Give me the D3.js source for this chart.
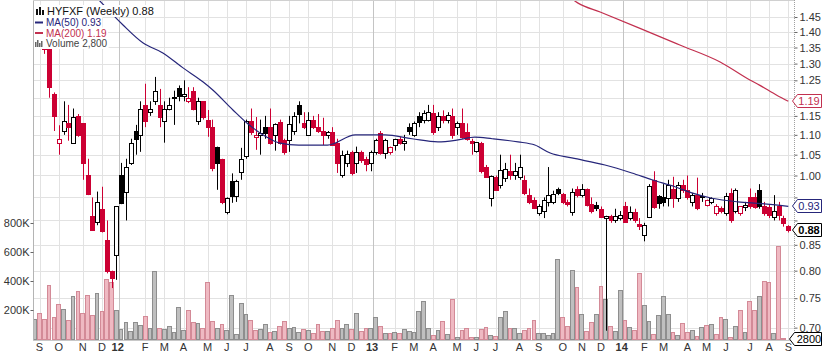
<!DOCTYPE html>
<html>
<head>
<meta charset="utf-8">
<script src="https://cdn.jsdelivr.net/npm/d3@7"></script>
<style>
html, body { margin: 0; padding: 0; background: #fff; }
svg { display: block; }
</style>
</head>
<body>
<svg id="chart" width="832" height="353"></svg>
<script>
// Weekly bars, dated by the Monday of the week; first bar is 29 Aug 2011
var firstWeek = new Date(2011, 7, 29);
var prevClose = 1.40;

// [open, high, low, close] per week
var ohlc = [
	[1.45,1.48,1.40,1.42],[1.42,1.44,1.36,1.38],[1.38,1.40,1.33,1.345],[1.35,1.36,1.20,1.23],
	[1.21,1.215,1.11,1.15],[1.08,1.125,1.05,1.09],[1.11,1.19,1.10,1.137],[1.13,1.18,1.085,1.12],
	[1.08,1.17,1.08,1.147],[1.15,1.155,1.095,1.10],[1.13,1.13,0.99,1.03],[1.00,1.04,0.955,0.958],
	[0.91,0.95,0.878,0.88],[0.897,0.963,0.89,0.94],[0.925,0.974,0.875,0.878],[0.86,0.90,0.795,0.80],
	[0.80,0.80,0.768,0.787],[0.83,0.93,0.783,0.93],[1.00,1.03,0.935,0.938],[0.962,1.04,0.90,1.02],
	[1.03,1.09,1.025,1.08],[1.11,1.126,1.05,1.09],[1.10,1.19,1.057,1.17],[1.18,1.24,1.12,1.137],
	[1.16,1.19,1.15,1.17],[1.19,1.26,1.18,1.22],[1.18,1.225,1.12,1.147],[1.137,1.19,1.08,1.17],
	[1.17,1.20,1.165,1.18],[1.198,1.22,1.126,1.202],[1.228,1.235,1.19,1.205],[1.205,1.25,1.19,1.21],
	[1.19,1.23,1.185,1.20],[1.22,1.23,1.165,1.17],[1.137,1.20,1.126,1.19],[1.19,1.19,1.14,1.147],
	[1.139,1.166,1.095,1.12],[1.12,1.14,1.01,1.018],[1.07,1.07,0.967,1.03],[1.04,1.04,0.935,0.94],
	[0.918,0.95,0.913,0.948],[0.987,1.005,0.938,0.952],[0.952,0.99,0.94,0.987],[1.008,1.067,0.99,1.04],
	[1.047,1.14,1.04,1.137],[1.137,1.17,1.10,1.108],[1.095,1.147,1.062,1.10],[1.10,1.14,1.05,1.105],
	[1.12,1.15,1.09,1.106],[1.12,1.17,1.075,1.08],[1.10,1.13,1.06,1.128],[1.133,1.14,1.075,1.08],
	[1.087,1.09,1.05,1.057],[1.087,1.15,1.057,1.128],[1.11,1.16,1.10,1.15],[1.18,1.19,1.13,1.155],
	[1.13,1.16,1.115,1.12],[1.10,1.16,1.10,1.139],[1.139,1.15,1.115,1.12],[1.12,1.155,1.105,1.11],
	[1.11,1.145,1.074,1.10],[1.10,1.11,1.09,1.108],[1.108,1.12,1.074,1.074],[1.08,1.09,1.006,1.03],
	[1.00,1.06,0.995,1.05],[1.03,1.06,1.02,1.052],[1.057,1.06,1.00,1.007],[1.03,1.07,1.006,1.057],
	[1.057,1.06,1.03,1.037],[1.04,1.045,1.01,1.027],[1.03,1.06,1.01,1.057],[1.057,1.09,1.05,1.087],
	[1.105,1.11,1.05,1.054],[1.054,1.09,1.04,1.087],[1.057,1.07,1.05,1.07],[1.074,1.09,1.06,1.09],
	[1.09,1.095,1.075,1.08],[1.08,1.10,1.06,1.085],[1.12,1.13,1.10,1.11],[1.10,1.135,1.095,1.13],
	[1.15,1.16,1.12,1.133],[1.14,1.165,1.13,1.157],[1.14,1.18,1.135,1.16],[1.157,1.18,1.10,1.108],
	[1.12,1.16,1.11,1.15],[1.15,1.165,1.13,1.14],[1.138,1.16,1.13,1.152],[1.15,1.17,1.09,1.10],
	[1.12,1.135,1.10,1.13],[1.13,1.17,1.09,1.095],[1.108,1.13,1.085,1.09],[1.085,1.09,1.05,1.08],
	[1.06,1.08,1.055,1.082],[1.08,1.082,1.005,1.01],[1.02,1.025,0.995,0.997],[0.948,1.00,0.93,0.999],
	[0.997,1.00,0.965,0.967],[0.978,1.05,0.97,1.013],[0.995,1.03,0.985,1.015],[1.01,1.05,0.99,1.00],
	[1.00,1.03,0.99,1.01],[0.997,1.05,0.99,1.02],[0.99,1.00,0.955,0.96],[0.955,0.97,0.935,0.94],
	[0.945,0.95,0.925,0.927],[0.915,0.935,0.91,0.93],[0.92,0.95,0.905,0.945],[0.94,1.02,0.93,0.955],
	[0.94,0.965,0.935,0.958],[0.968,0.972,0.955,0.96],[0.958,0.96,0.935,0.94],[0.94,0.945,0.93,0.935],
	[0.918,0.97,0.91,0.963],[0.968,0.975,0.95,0.955],[0.955,0.98,0.95,0.968],[0.968,0.97,0.93,0.933],
	[0.935,0.95,0.915,0.92],[0.933,0.94,0.92,0.926],[0.924,0.93,0.905,0.908],[0.905,0.91,0.695,0.91],
	[0.91,0.912,0.895,0.90],[0.90,0.925,0.895,0.91],[0.905,0.92,0.90,0.912],[0.93,0.94,0.895,0.897],
	[0.905,0.93,0.90,0.918],[0.918,0.925,0.895,0.90],[0.892,0.905,0.88,0.888],[0.87,0.895,0.857,0.89],
	[0.908,0.98,0.905,0.975],[0.99,1.01,0.925,0.928],[0.952,0.955,0.925,0.937],[0.951,0.98,0.93,0.94],
	[0.948,0.99,0.93,0.978],[0.969,0.997,0.927,0.948],[0.948,0.985,0.94,0.978],[0.978,0.99,0.96,0.967],
	[0.967,1.00,0.945,0.95],[0.94,0.96,0.93,0.955],[0.955,0.995,0.922,0.927],[0.953,0.96,0.94,0.95],
	[0.933,0.945,0.93,0.944],[0.94,0.95,0.935,0.948],[0.915,0.935,0.91,0.93],[0.927,0.93,0.915,0.92],
	[0.915,0.96,0.91,0.952],[0.96,0.97,0.895,0.90],[0.92,0.97,0.915,0.967],[0.915,0.93,0.91,0.93],
	[0.928,0.94,0.92,0.933],[0.95,0.97,0.925,0.932],[0.95,0.96,0.925,0.928],[0.966,0.98,0.925,0.93],
	[0.93,0.94,0.91,0.915],[0.928,0.935,0.905,0.912],[0.907,0.955,0.90,0.92],[0.93,0.94,0.90,0.912],
	[0.905,0.91,0.887,0.895],[0.888,0.89,0.875,0.88]
];

// weekly volume, thousands of shares
var volume = [
	136,177,136,372,152,241,207,131,296,331,179,303,165,317,193,414,393,200,69,117,
	55,117,97,161,76,469,76,69,90,48,221,62,200,117,110,76,393,124,76,103,
	62,303,34,248,172,131,62,69,103,48,55,90,124,76,83,48,69,62,41,103,
	55,55,76,131,76,103,69,179,55,76,76,152,90,41,41,48,41,69,55,48,
	193,262,74,28,62,124,34,276,14,62,76,14,14,69,83,28,21,152,193,76,
	76,41,62,76,131,41,41,28,41,552,152,90,476,359,172,55,117,172,366,276,
	90,55,338,131,83,62,455,234,124,34,165,296,172,48,28,110,48,62,21,83,
	97,103,34,152,141,14,90,200,48,262,200,296,400,393,41,641,7,2.8
];

// moving averages: [week index, value]
var ma50 = [
	[11,1.55],[14.4,1.491],[16.3,1.457],[18.4,1.423],[22.6,1.364],[26.7,1.333],[30.9,1.287],
	[35.1,1.245],[37.1,1.222],[41.3,1.166],[44.2,1.131],[48.4,1.094],[51.1,1.079],[55,1.074],
	[61,1.074],[66.8,1.10],[73,1.10],[78.6,1.09],[84,1.082],[88.2,1.087],[91.7,1.094],[95.3,1.09],
	[100.7,1.082],[104.2,1.074],[107.4,1.054],[111.9,1.042],[118.8,1.025],[124.4,1.006],
	[128.6,0.99],[133.4,0.974],[136.9,0.96],[141.1,0.948],[146.5,0.94],[151.5,0.936],[157,0.93]
];
var ma200 = [
	[110,1.54],[113.2,1.498],[117.8,1.467],[126.1,1.412],[134.4,1.358],[142.8,1.305],
	[149,1.251],[151,1.236],[154.6,1.207],[157,1.19]
];

var priceTicks = [0.70,0.75,0.80,0.85,0.90,0.95,1.00,1.05,1.10,1.15,1.20,1.25,1.30,1.35,1.40,1.45];
var volumeTicks = [200,400,600,800];
var monthLetters = ['J','F','M','A','M','J','J','A','S','O','N','D'];

var plot = {left: 33, right: 794, top: 0, bottom: 340};
var red = '#cc0033';
var navy = '#26267a';
var maRed = '#c2304f';
var axisFont = '"Liberation Sans", Arial, sans-serif';

var svg = d3.select('#chart');

var xScale = d3.scaleBand()
		.domain(d3.range(ohlc.length))
		.range([32.3, 32.3 + ohlc.length * 4.8]);
var step = xScale.bandwidth();

var yPrice = d3.scaleLog()
		.domain([0.680, 1.509])
		.range([plot.bottom, plot.top]);

var yVol = d3.scaleLinear()
		.domain([0, 1000])
		.range([339, 194]);

function center(i) {
	return xScale.range()[0] + step * (i + 0.5);
}

function isUp(i) {
	var prev = i ? ohlc[i - 1][3] : prevClose;
	return ohlc[i][3] >= prev;
}

var weeks = d3.range(ohlc.length).map(function(i) {
	return d3.timeDay.offset(firstWeek, 7 * i);
});
var monthStarts = d3.range(1, weeks.length).filter(function(i) {
	return weeks[i].getMonth() !== weeks[i - 1].getMonth();
});

var lastClose = ohlc[ohlc.length - 1][3];
var lastMa50 = ma50[ma50.length - 1][1];
var lastMa200 = ma200[ma200.length - 1][1];
var lastVol = volume[volume.length - 1] * 1000;

// grid
var grid = svg.append('g');
grid.selectAll('line.h').data(priceTicks).enter().append('line')
		.attr('x1', plot.left).attr('x2', plot.right)
		.attr('y1', d => Math.round(yPrice(d)) + 0.5)
		.attr('y2', d => Math.round(yPrice(d)) + 0.5)
		.attr('stroke', '#e2e2e2');

grid.selectAll('line.v').data(monthStarts).enter().append('line')
		.attr('x1', d => Math.round(weeks[d].getMonth() === 0 ? xScale(d) : center(d)) + 0.5)
		.attr('x2', d => Math.round(weeks[d].getMonth() === 0 ? xScale(d) : center(d)) + 0.5)
		.attr('y1', plot.top).attr('y2', plot.bottom)
		.attr('stroke', d => weeks[d].getMonth() === 0 ? '#c4c4c4' : '#e2e2e2');

// frame
svg.append('line').attr('x1', plot.left + 0.5).attr('x2', plot.left + 0.5)
		.attr('y1', 0).attr('y2', plot.bottom).attr('stroke', '#b4b4b4');
svg.append('line').attr('x1', plot.left).attr('x2', plot.right)
		.attr('y1', plot.bottom + 0.5).attr('y2', plot.bottom + 0.5).attr('stroke', '#c8c8c8');
svg.append('line').attr('x1', plot.left).attr('x2', plot.right)
		.attr('y1', 0.5).attr('y2', 0.5).attr('stroke', '#d0d0d0');
svg.append('line').attr('x1', plot.right + 0.5).attr('x2', plot.right + 0.5)
		.attr('y1', 0).attr('y2', plot.bottom)
		.attr('stroke', '#a0a0a0').attr('stroke-dasharray', '1,1');

svg.append('clipPath').attr('id', 'clip').append('rect')
		.attr('x', plot.left + 1).attr('y', 1)
		.attr('width', plot.right - plot.left - 1).attr('height', plot.bottom - 1);

var body = svg.append('g').attr('clip-path', 'url(#clip)');

// volume
body.append('g').selectAll('rect').data(volume).enter().append('rect')
		.attr('x', (d, i) => Math.round(xScale(i)) + 0.5)
		.attr('width', (d, i) => Math.max(1, Math.round(xScale(i) + step) - Math.round(xScale(i)) - 1))
		.attr('y', d => Math.round(yVol(d)) + 0.5)
		.attr('height', d => Math.max(0, 339 - Math.round(yVol(d))))
		.attr('fill', (d, i) => isUp(i) ? '#bfbfbf' : '#efb9c2')
		.attr('stroke', (d, i) => isUp(i) ? '#8e8e8e' : '#d38a97');

// candles
var candle = body.append('g').selectAll('g').data(ohlc).enter().append('g');
candle.append('line')
		.attr('x1', (d, i) => Math.round(center(i)) + 0.5)
		.attr('x2', (d, i) => Math.round(center(i)) + 0.5)
		.attr('y1', d => yPrice(d[1]))
		.attr('y2', d => yPrice(d[2]))
		.attr('stroke', (d, i) => isUp(i) ? '#000' : red);
candle.append('rect')
		.attr('x', (d, i) => Math.round(center(i)) - 1.5)
		.attr('width', 4)
		.attr('y', d => Math.round(yPrice(Math.max(d[0], d[3]))) + 0.5)
		.attr('height', d => Math.max(1, Math.round(yPrice(Math.min(d[0], d[3]))) - Math.round(yPrice(Math.max(d[0], d[3])))))
		.attr('fill', (d, i) => d[3] >= d[0] ? '#fff' : (isUp(i) ? '#000' : red))
		.attr('stroke', (d, i) => isUp(i) ? '#000' : red);

// moving averages
var maLine = d3.line()
		.x(d => center(d[0]))
		.y(d => yPrice(d[1]))
		.curve(d3.curveMonotoneX);
body.append('path').datum(ma50).attr('d', maLine)
		.attr('fill', 'none').attr('stroke', navy).attr('stroke-width', 1.2);
body.append('path').datum(ma200).attr('d', maLine)
		.attr('fill', 'none').attr('stroke', maRed).attr('stroke-width', 1.2);

// right price axis; labels sitting under a value tag are covered, as in the original
var tagYs = [yPrice(lastMa200), yPrice(lastMa50), yPrice(lastClose)];
var visibleTicks = priceTicks.filter(function(t) {
	return tagYs.every(function(ty) { return Math.abs(yPrice(t) - ty) > 13; });
});
var rightAxis = svg.append('g')
		.attr('transform', 'translate(' + (plot.right + 0.5) + ',0)')
		.call(d3.axisRight(yPrice).tickValues(priceTicks).tickFormat(d => visibleTicks.indexOf(d) < 0 ? '' : d3.format('.2f')(d)).tickSize(3).tickPadding(2));
rightAxis.select('.domain').remove();
rightAxis.selectAll('line').attr('stroke', '#666');
rightAxis.selectAll('text').attr('fill', '#333').style('font-family', axisFont).style('font-size', '11px');

// left volume axis
var leftAxis = svg.append('g')
		.attr('transform', 'translate(' + (plot.left + 0.5) + ',0)')
		.call(d3.axisLeft(yVol).tickValues(volumeTicks).tickFormat(d => d + 'K').tickSize(3).tickPadding(1));
leftAxis.select('.domain').remove();
leftAxis.selectAll('line').attr('stroke', '#666');
leftAxis.selectAll('text').attr('fill', '#333').style('font-family', axisFont).style('font-size', '11px');

// month labels
svg.append('g').selectAll('text').data(monthStarts).enter().append('text')
		.attr('x', d => weeks[d].getMonth() === 0 ? xScale(d) - 1 : center(d))
		.attr('y', 351)
		.attr('text-anchor', 'middle')
		.style('font-family', axisFont)
		.style('font-size', '11px')
		.style('font-weight', d => weeks[d].getMonth() === 0 ? 'bold' : 'normal')
		.attr('fill', '#333')
		.text(d => weeks[d].getMonth() === 0 ? d3.timeFormat('%y')(weeks[d]) : monthLetters[weeks[d].getMonth()]);

// value tags on the right
function tag(y, label, color, bold, tip) {
	var g = svg.append('g');
	var top = Math.round(y) - 6.5, bot = Math.round(y) + 6.5;
	g.append('path')
			.attr('d', 'M' + tip + ',' + Math.round(y) + 'L' + (tip + 5) + ',' + top +
					'L821.5,' + top + 'L821.5,' + bot + 'L' + (tip + 5) + ',' + bot + 'Z')
			.attr('fill', '#fff').attr('stroke', color);
	g.append('text').attr('x', 809).attr('y', Math.round(y) + 4)
			.attr('text-anchor', 'middle')
			.style('font-family', axisFont).style('font-size', '11px')
			.style('font-weight', bold ? 'bold' : 'normal')
			.attr('fill', color)
			.text(label);
}
tag(yPrice(lastMa200), lastMa200.toFixed(2), maRed, false, 792.5);
tag(yPrice(lastMa50), lastMa50.toFixed(2), navy, false, 792.5);
tag(yPrice(lastClose), lastClose.toFixed(2), '#000', true, 792.5);
tag(yVol(volume[volume.length - 1]), String(lastVol), '#000', false, 789.5);

// legend
var legend = svg.append('g');
var rows = [
	{text: 'HYFXF (Weekly) ' + lastClose.toFixed(2), color: '#111', y: 15, x: 47, size: 11},
	{text: 'MA(50) ' + lastMa50.toFixed(2), color: navy, y: 26, x: 46, size: 10},
	{text: 'MA(200) ' + lastMa200.toFixed(2), color: maRed, y: 36.5, x: 46, size: 10},
	{text: 'Volume ' + d3.format(',')(lastVol), color: '#444', y: 47, x: 46, size: 10}
];
var bg = legend.append('g');
var texts = legend.selectAll('text').data(rows).enter().append('text')
		.attr('x', d => d.x).attr('y', d => d.y)
		.style('font-family', axisFont).style('font-size', d => d.size + 'px')
		.attr('fill', d => d.color)
		.text(d => d.text);
texts.each(function() {
	var b = this.getBBox();
	bg.append('rect').attr('x', 34).attr('y', b.y)
			.attr('width', b.x + b.width - 34 + 1).attr('height', b.height)
			.attr('fill', '#fff');
});
// icons
legend.append('rect').attr('x', 36).attr('y', 9).attr('width', 2).attr('height', 6).attr('fill', '#111');
legend.append('rect').attr('x', 39).attr('y', 7).attr('width', 2).attr('height', 8).attr('fill', '#111');
legend.append('rect').attr('x', 42).attr('y', 10).attr('width', 2).attr('height', 5).attr('fill', '#111');
legend.append('line').attr('x1', 35).attr('x2', 43).attr('y1', 22.5).attr('y2', 22.5).attr('stroke', navy).attr('stroke-width', 2);
legend.append('line').attr('x1', 35).attr('x2', 43).attr('y1', 33).attr('y2', 33).attr('stroke', maRed).attr('stroke-width', 2);
[5, 7, 4, 6].forEach(function(h, k) {
	legend.append('rect').attr('x', 35 + k * 2).attr('y', 47 - h).attr('width', 1.5).attr('height', h).attr('fill', '#666');
});
</script>
</body>
</html>
